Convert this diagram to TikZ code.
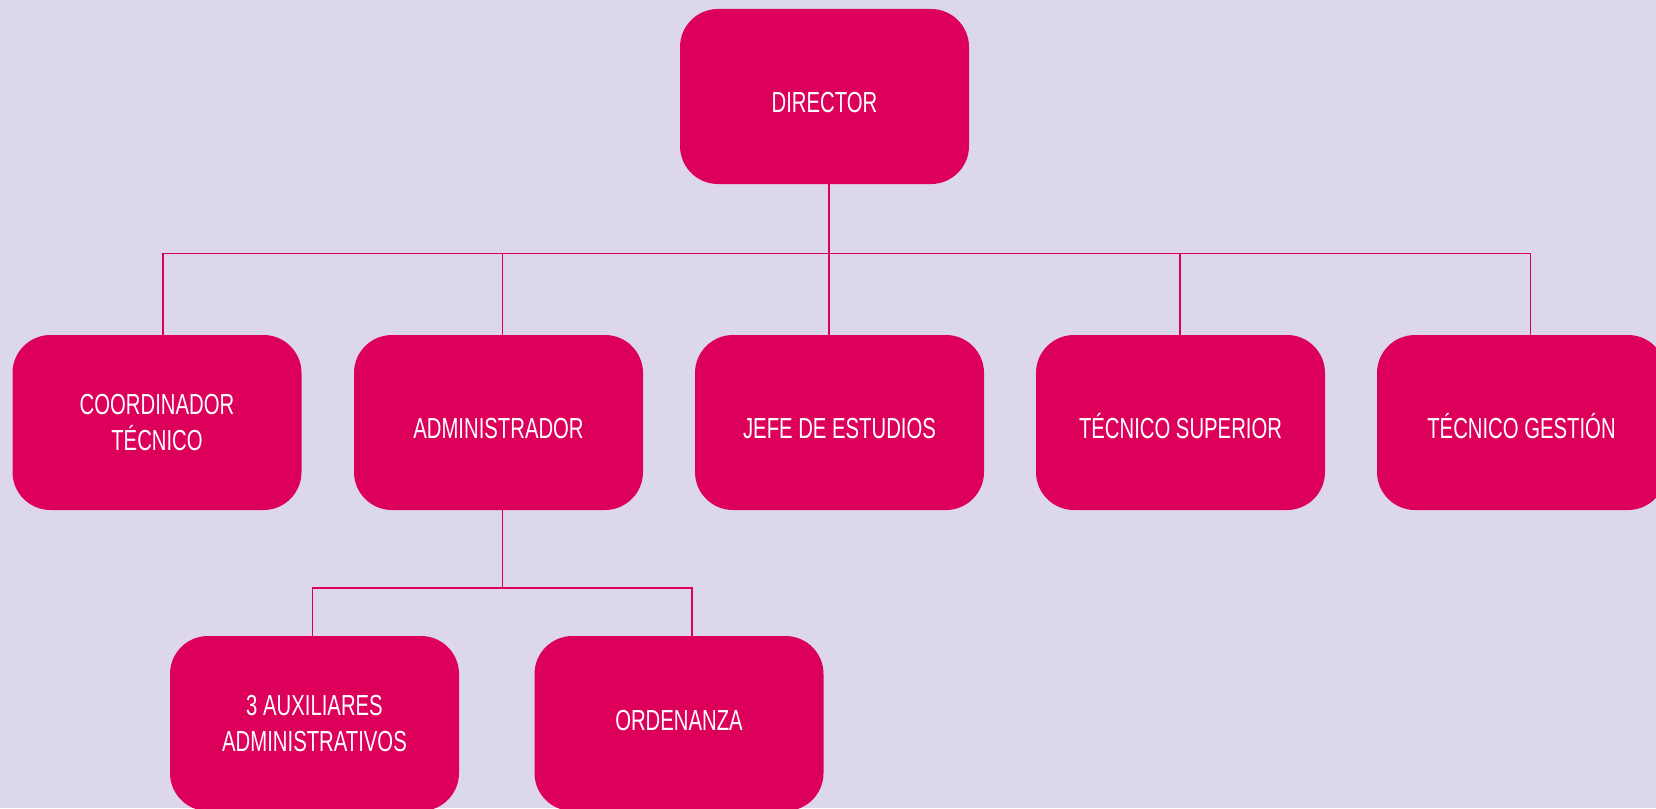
\documentclass[tikz,border=0pt]{standalone}
\usepackage{fontspec}
\setmainfont[FakeStretch=0.70]{Liberation Sans}
\definecolor{bg}{HTML}{DCD7EA}
\definecolor{box}{HTML}{DC005A}
\begin{document}
\begin{tikzpicture}[x=1pt,y=-1pt,
  orgbox/.style={fill=box, text=white, rounded corners=38pt, minimum width=289pt, minimum height=175pt, inner sep=0pt, align=center, font=\fontsize{29}{35.6}\selectfont, execute at begin node={\rule{0pt}{31.4pt}}},
  highbox/.style={orgbox, text depth=17.5pt},
  link/.style={draw=box, line width=1.5pt}]
\fill[bg] (0,0) rectangle (1656,808);
\useasboundingbox (0,0) rectangle (1656,808);
\clip (0,0) rectangle (1656,808);
\node[orgbox] (dir) at (824.5,96.5) {DIRECTOR};
\node[orgbox] (coord) at (157,422.5) {COORDINADOR\\TÉCNICO};
\node[orgbox] (adm) at (498.5,422.5) {ADMINISTRADOR};
\node[orgbox] (jefe) at (839.5,422.5) {JEFE DE ESTUDIOS};
\node[orgbox] (sup) at (1180.5,422.5) {TÉCNICO SUPERIOR};
\node[orgbox] (ges) at (1521.5,422.5) {TÉCNICO GESTIÓN};
\node[orgbox] (aux) at (314.5,723.5) {3 AUXILIARES\\ADMINISTRATIVOS};
\node[highbox] (ord) at (679,723.5) {ORDENANZA};
% bus taps
\coordinate (t0) at (829,253.5);
\coordinate (t1) at (163,253.5);
\coordinate (t2) at (502.5,253.5);
\coordinate (t3) at (1180,253.5);
\coordinate (t4) at (1530.5,253.5);
\coordinate (b0) at (502.5,588);
\coordinate (b1) at (312.5,588);
\coordinate (b2) at (692,588);
\draw[link] (t0 |- dir.south) -- (t0);
\draw[link] (t1 |- coord.north) -- (t1) -- (t4) -- (t4 |- ges.north);
\draw[link] (t2) -- (t2 |- adm.north);
\draw[link] (t0) -- (t0 |- jefe.north);
\draw[link] (t3) -- (t3 |- sup.north);
\draw[link] (b0 |- adm.south) -- (b0);
\draw[link] (b1 |- aux.north) -- (b1) -- (b2) -- (b2 |- ord.north);
\end{tikzpicture}
\end{document}
